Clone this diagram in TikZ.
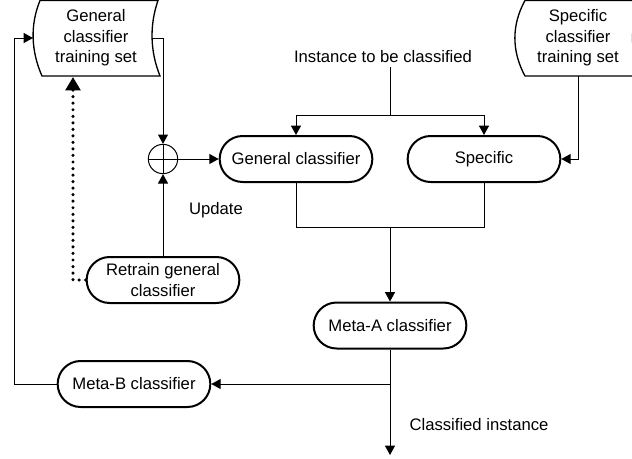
\documentclass[tikz,border=0pt]{standalone}
\usepackage{fontspec}
\setmainfont{Liberation Sans}
\usetikzlibrary{arrows.meta,shapes.misc}

\tikzset{
  box/.style={draw,line width=1.5pt,rounded rectangle,minimum width=118.5pt,minimum height=34.5pt,inner sep=2pt,align=center},
  store/.style={align=center,minimum width=90pt,minimum height=57pt,inner sep=0pt},
  lbl/.style={inner sep=3pt},
  arr/.style={line width=0.75pt,-{Triangle[length=7pt,width=7.5pt]}},
  edge/.style={line width=0.75pt},
  dotarr/.style={line width=2.6pt,line cap=round,dash pattern=on 0pt off 4.9pt,-{Triangle[length=10pt,width=11pt]}}
}

\begin{document}
\begin{tikzpicture}[x=0.75pt,y=-0.75pt,font=\fontsize{12.5}{15.4}\selectfont]
  \useasboundingbox (0,0) rectangle (632,458);
  % stored data shapes
  \draw[line width=1pt] (40,0.5) .. controls (30,25) and (31,51) .. (42,76) -- (160,76) .. controls (150,51) and (149.5,25) .. (158,0.5) -- cycle;
  \draw[line width=1pt] (525,0.5) .. controls (511.5,25) and (511.5,51) .. (525,76) -- (643,76) .. controls (629,51) and (629,25) .. (643,0.5) -- cycle;
  \node[store] (gts) at (96,38) {General\\classifier\\training set};
  \node[store] (sts) at (578,38) {Specific\\classifier\\training set};
  \coordinate (gtsout) at (152,38);
  \coordinate (gtsin) at (33,38);
  \coordinate (dotin) at (73,77);

  % classifiers
  \node[box] (gc) at (296,159) {General classifier};
  \node[box] (spec) at (484,159) {Specific};
  \node[box] (retrain) at (163,280) {Retrain general\\classifier};
  \node[box] (metaA) at (390,325.5) {Meta-A classifier};
  \node[box] (metaB) at (134,384) {Meta-B classifier};
  \node[draw,circle,line width=0.75pt,minimum size=22pt,inner sep=0pt] (sum) at (163,159) {};
  \draw[edge] (sum.north) -- (sum.south) (sum.west) -- (sum.east);

  % labels
  \node[lbl] (inst) at (383,57) {Instance to be classified};
  \node[lbl] (upd) at (216,210) {Update};
  \node[lbl] (clsd) at (479,425) {Classified instance};
  \coordinate (fork) at (390,115);
  \coordinate (join) at (390,227);
  \coordinate (out) at (390,455);

  % connectors
  \draw[edge] (fork |- inst.south) -- (fork);
  \draw[arr] (fork) -| (gc.north);
  \draw[arr] (fork) -| (spec.north);
  \draw[arr] (sts.south) |- (spec.east);
  \draw[arr] (gtsout) -| (sum.north);
  \draw[arr] (retrain.north) -- (sum.south);
  \draw[arr] (sum.east) -- (gc.west);
  \draw[edge] (gc.south) |- (spec.south |- join) -- (spec.south);
  \draw[arr] (join) -- (metaA.north);
  \draw[arr] (metaA.south) -- (out);
  \draw[arr] (metaA.south |- metaB.east) -- (metaB.east);
  \draw[arr] (metaB.west) -- ++(-42,0) |- (gtsin);
  \draw[dotarr] (retrain.west) -| (dotin);
\end{tikzpicture}
\end{document}
